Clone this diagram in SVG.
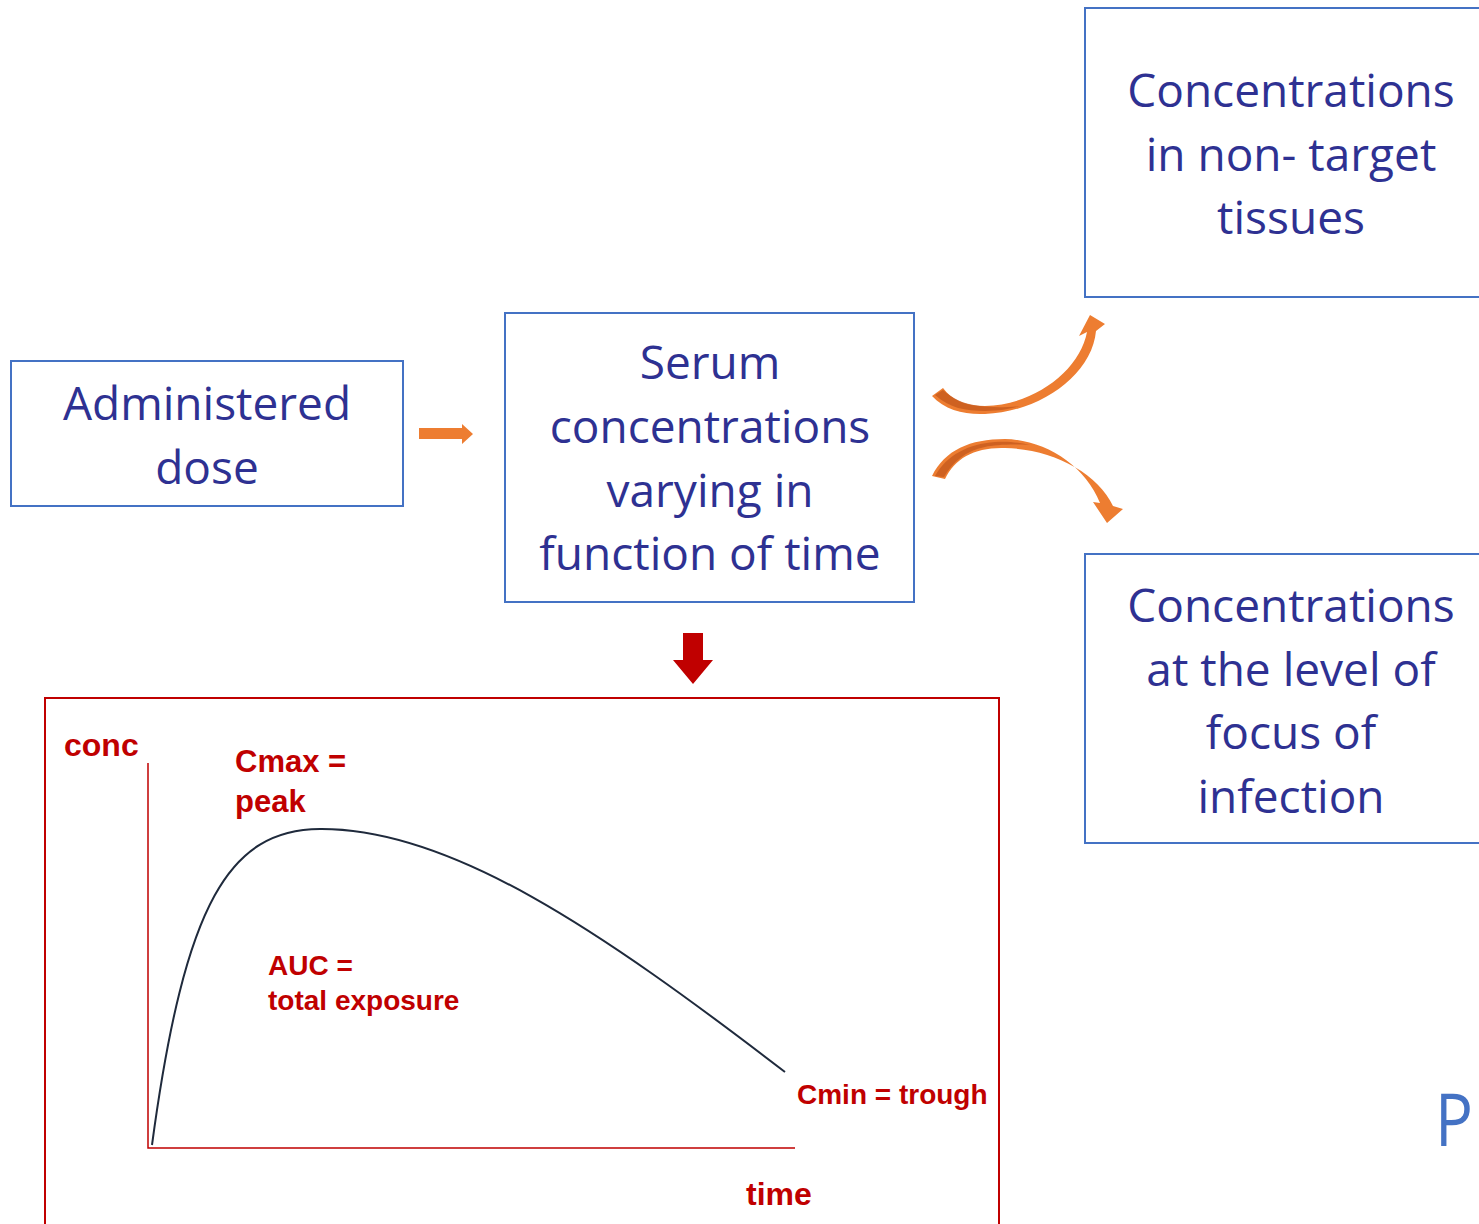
<svg xmlns="http://www.w3.org/2000/svg" width="1479" height="1224" viewBox="0 0 1479 1224">
<style>
.box{fill:#fff;stroke:#4472C4;stroke-width:2}
.bt{font-family:"Open Sans","Noto Sans",sans-serif;font-size:46px;fill:#2E3192;text-anchor:middle}
.rt{font-family:"Liberation Sans",Arial,sans-serif;font-weight:bold;fill:#C00000}
.orange{fill:#ED7D31}
</style>
<rect width="1479" height="1224" fill="#fff"/>
<g id="dose">
<rect class="box" x="11" y="361" width="392" height="145"/>
<text class="bt" x="207" y="420">Administered</text>
<text class="bt" x="207" y="484">dose</text>
</g>
<g id="serum">
<rect class="box" x="505" y="313" width="409" height="289"/>
<text class="bt" x="710" y="379">Serum</text>
<text class="bt" x="710" y="443">concentrations</text>
<text class="bt" x="710" y="507">varying in</text>
<text class="bt" x="710" y="570">function of time</text>
</g>
<g id="nontarget">
<rect class="box" x="1085" y="8" width="400" height="289"/>
<text class="bt" x="1291" y="107">Concentrations</text>
<text class="bt" x="1291" y="171">in non- target</text>
<text class="bt" x="1291" y="234">tissues</text>
</g>
<g id="focus">
<rect class="box" x="1085" y="554" width="400" height="289"/>
<text class="bt" x="1291" y="622">Concentrations</text>
<text class="bt" x="1291" y="686">at the level of</text>
<text class="bt" x="1291" y="749">focus of</text>
<text class="bt" x="1291" y="813">infection</text>
</g>
<g id="connectors">
<path class="orange" d="M419 428 H462 V424 L473 434 L462 444 V439 H419 Z"/>
<path class="orange" d="M932 396 C945 410 965 415 985 414 C1040 412 1092 375 1096 331 L1105 324 L1090 315 L1079 336 L1087 332 C1080 370 1035 405 985 406 C965 406 952 400 943 388 Z"/>
<path d="M935 395 C950 408 965 411 985 411 C1000 411 1010 409 1020 406 C1000 408 990 407 980 406 C962 404 952 398 943 390 Z" fill="#C55A1E" opacity="0.8"/>
<path class="orange" d="M932 476 C945 450 970 439 1005 439 C1045 440 1085 465 1100 503 L1093 502 L1107 523 L1123 509 L1113 506 C1097 472 1052 449 1005 448 C975 447 955 458 945 479 Z"/>
<path d="M935 476 C947 455 968 444 995 442 C1010 441 1020 443 1030 445 C1010 444 995 445 985 447 C965 451 953 462 944 477 Z" fill="#C55A1E" opacity="0.8"/>
<path fill="#C00000" d="M683 633 H703 V660 H713 L693 684 L673 660 H683 Z"/>
</g>
<g id="chart">
<rect x="45" y="698" width="954" height="540" fill="none" stroke="#C00000" stroke-width="2"/>
<path d="M148 763 V1148 H795" fill="none" stroke="#C00000" stroke-width="1.5"/>
<path d="M152 1145 C185 900 230 830 320 829 C450 828 600 930 785 1072" fill="none" stroke="#1F2A3C" stroke-width="2"/>
<text class="rt" x="64" y="756" font-size="32">conc</text>
<text class="rt" x="235" y="772" font-size="31">Cmax =</text>
<text class="rt" x="235" y="812" font-size="31">peak</text>
<text class="rt" x="268" y="975" font-size="28">AUC =</text>
<text class="rt" x="268" y="1010" font-size="28">total exposure</text>
<text class="rt" x="797" y="1104" font-size="28">Cmin = trough</text>
<text class="rt" x="746" y="1205" font-size="32">time</text>
</g>
<text x="1435" y="1146" font-family="'Open Sans','Noto Sans',sans-serif" font-size="74" fill="#4472C4" textLength="38" lengthAdjust="spacingAndGlyphs">P</text>
</svg>
